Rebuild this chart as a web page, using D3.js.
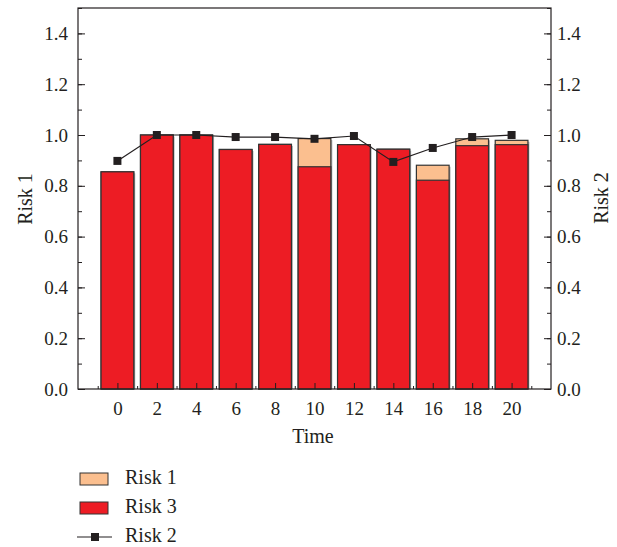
<!DOCTYPE html>
<html><head><meta charset="utf-8">
<script src="https://cdn.jsdelivr.net/npm/d3@7"></script>
<style>body{margin:0;background:#fff}svg{display:block}text{font-family:"Liberation Serif","DejaVu Serif",serif;fill:#231f20}</style>
</head><body><svg id="c" width="617" height="547"></svg>
<script>
const times = [0, 2, 4, 6, 8, 10, 12, 14, 16, 18, 20];
const risk3 = [0.855, 1.0, 1.0, 0.943, 0.963, 0.875, 0.962, 0.944, 0.822, 0.958, 0.962];
const risk1 = [0.855, 1.0, 1.0, 0.943, 0.963, 0.986, 0.962, 0.944, 0.881, 0.985, 0.979];
const risk2 = [0.898, 1.0, 1.0, 0.992, 0.992, 0.985, 0.996, 0.894, 0.949, 0.992, 1.0];
const yTicks = [0, 0.2, 0.4, 0.6, 0.8, 1.0, 1.2, 1.4];

const svg = d3.select("#c");
const L = 78, R = 551, T = 8, B = 389;
const x = d3.scaleLinear().domain([-2, 22]).range([L, R]);
const y = d3.scaleLinear().domain([0, 1.5]).range([B, T]);
const bw = x(1.66) - x(0);
const red = "#ed1c24", peach = "#fbbf8f", edge = "#333";
const FS = 19;

// bars: shadow, risk1 (behind), risk3
const g = svg.append("g");
times.forEach((t, i) => {
  g.append("rect").attr("x", x(t) - bw/2 + 1.5).attr("y", y(risk1[i]) + 1.5)
   .attr("width", bw).attr("height", B - y(risk1[i]) - 1.5).attr("fill", "#bbb");
});
g.selectAll(".r1").data(times).join("rect")
  .attr("x", t => x(t) - bw/2).attr("y", (t,i) => y(risk1[i]))
  .attr("width", bw).attr("height", (t,i) => B - y(risk1[i]))
  .attr("fill", peach).attr("stroke", edge).attr("stroke-width", 1.2);
g.selectAll(".r3").data(times).join("rect")
  .attr("x", t => x(t) - bw/2).attr("y", (t,i) => y(risk3[i]))
  .attr("width", bw).attr("height", (t,i) => B - y(risk3[i]))
  .attr("fill", red).attr("stroke", edge).attr("stroke-width", 1.2);

// line
const line = d3.line().x((d,i) => x(times[i])).y(d => y(d));
svg.append("path").datum(risk2).attr("d", line).attr("fill", "none")
  .attr("stroke", "#231f20").attr("stroke-width", 1.2);
svg.selectAll(".m").data(risk2).join("rect")
  .attr("x", (d,i) => x(times[i]) - 4).attr("y", d => y(d) - 4)
  .attr("width", 8).attr("height", 8).attr("fill", "#231f20");

// frame
svg.append("rect").attr("x", L).attr("y", T).attr("width", R - L).attr("height", B - T)
  .attr("fill", "none").attr("stroke", "#231f20").attr("stroke-width", 1.2);

// axes
const ax = (gen) => (sel) => { sel.call(gen); sel.select(".domain").remove();
  sel.selectAll("line").attr("stroke", "#231f20"); };
const minor = d3.range(0, 1.51, 0.1);
svg.append("g").attr("transform", `translate(${L},0)`)
  .call(ax(d3.axisLeft(y).tickValues(minor).tickSize(-4).tickFormat("")));
svg.append("g").attr("transform", `translate(${L},0)`)
  .call(ax(d3.axisLeft(y).tickValues(yTicks).tickSize(-7).tickPadding(10).tickFormat(d3.format(".1f"))))
  .selectAll("text").attr("font-size", FS).attr("fill", "#231f20");
svg.append("g").attr("transform", `translate(${R},0)`)
  .call(ax(d3.axisRight(y).tickValues(minor).tickSize(-4).tickFormat("")));
svg.append("g").attr("transform", `translate(${R},0)`)
  .call(ax(d3.axisRight(y).tickValues(yTicks).tickSize(-7).tickPadding(6).tickFormat(d3.format(".1f"))))
  .selectAll("text").attr("font-size", FS).attr("fill", "#231f20");
svg.append("g").attr("transform", `translate(0,${B})`)
  .call(ax(d3.axisBottom(x).tickValues(d3.range(-1, 22, 2)).tickSize(-3).tickFormat("")));
svg.append("g").attr("transform", `translate(0,${B})`)
  .call(ax(d3.axisBottom(x).tickValues(times).tickSize(-6).tickPadding(13).tickFormat(d3.format("d"))))
  .selectAll("text").attr("font-size", FS).attr("fill", "#231f20");

// titles
svg.append("text").attr("x", 313).attr("y", 443).attr("text-anchor", "middle").attr("font-size", 20).text("Time");
svg.append("text").attr("transform", "translate(32,199) rotate(-90)").attr("text-anchor", "middle").attr("font-size", 20).text("Risk 1");
svg.append("text").attr("transform", "translate(608,198) rotate(-90)").attr("text-anchor", "middle").attr("font-size", 20).text("Risk 2");

// legend
const lg = svg.append("g");
lg.append("rect").attr("x", 80).attr("y", 473).attr("width", 28).attr("height", 12).attr("fill", peach).attr("stroke", edge);
lg.append("text").attr("x", 125).attr("y", 484).attr("font-size", 20).text("Risk 1");
lg.append("rect").attr("x", 80).attr("y", 502).attr("width", 28).attr("height", 12).attr("fill", red).attr("stroke", edge);
lg.append("text").attr("x", 125).attr("y", 513).attr("font-size", 20).text("Risk 3");
lg.append("line").attr("x1", 77).attr("x2", 112).attr("y1", 537).attr("y2", 537).attr("stroke", "#231f20").attr("stroke-width", 1.2);
lg.append("rect").attr("x", 91).attr("y", 533).attr("width", 8).attr("height", 8).attr("fill", "#231f20");
lg.append("text").attr("x", 125).attr("y", 542).attr("font-size", 20).text("Risk 2");
</script></body></html>
